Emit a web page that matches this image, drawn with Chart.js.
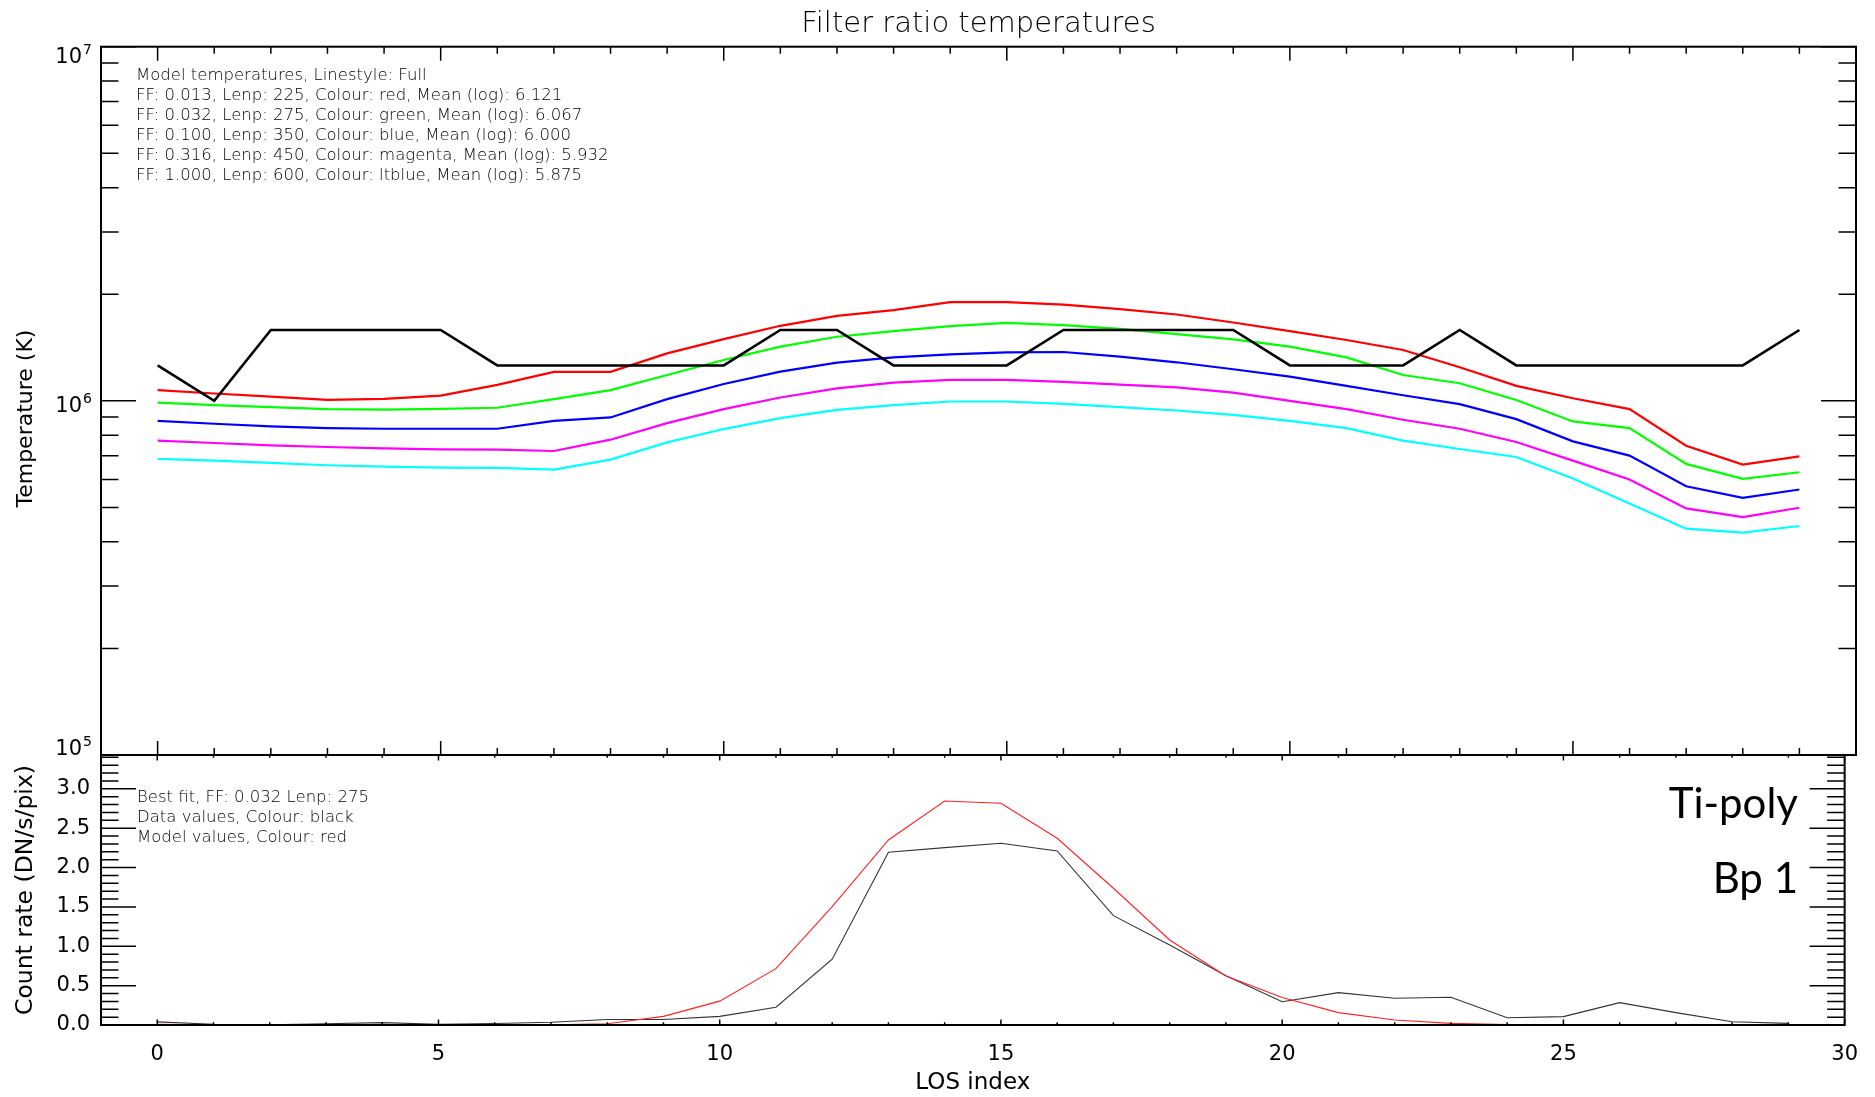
<!DOCTYPE html>
<html>
<head>
<meta charset="utf-8">
<title>Filter ratio temperatures</title>
<script src="https://cdn.jsdelivr.net/npm/chart.js@4/dist/chart.umd.min.js"></script>
<style>
  html, body { margin: 0; padding: 0; background: #fff; }
  #wrap { position: relative; width: 1875px; height: 1097px; }
  #wrap canvas { position: absolute; left: 0; top: 0; }
</style>
</head>
<body>
<div id="wrap">
  <canvas id="temps" width="1875" height="1097"></canvas>
  <canvas id="counts" width="1875" height="1097"></canvas>
</div>
<script>
// Line-of-sight positions along the loop
const losIndex = [0, 1, 2, 3, 4, 5, 6, 7, 8, 9, 10, 11, 12, 13, 14, 15, 16, 17, 18, 19, 20, 21, 22, 23, 24, 25, 26, 27, 28, 29];

// Model temperatures (K) for each filling factor / loop length pair
const tempFF013 = [1.072e6, 1.049e6, 1.028e6, 1.006e6, 1.013e6, 1.035e6, 1.109e6, 1.207e6, 1.207e6, 1.362e6,
                   1.494e6, 1.629e6, 1.738e6, 1.803e6, 1.899e6, 1.899e6, 1.870e6, 1.815e6, 1.753e6, 1.664e6,
                   1.573e6, 1.485e6, 1.392e6, 1.244e6, 1.102e6, 1.017e6, 9.475e5, 7.471e5, 6.607e5, 6.970e5];
const tempFF032 = [9.89e5, 9.72e5, 9.60e5, 9.475e5, 9.45e5, 9.49e5, 9.56e5, 1.011e6, 1.072e6, 1.183e6,
                   1.304e6, 1.422e6, 1.517e6, 1.573e6, 1.625e6, 1.661e6, 1.636e6, 1.597e6, 1.543e6, 1.491e6,
                   1.422e6, 1.327e6, 1.183e6, 1.121e6, 1.006e6, 8.748e5, 8.377e5, 6.636e5, 6.022e5, 6.287e5];
const tempFF100 = [8.784e5, 8.616e5, 8.469e5, 8.378e5, 8.341e5, 8.341e5, 8.341e5, 8.784e5, 8.977e5, 1.011e6,
                   1.116e6, 1.209e6, 1.282e6, 1.327e6, 1.353e6, 1.371e6, 1.374e6, 1.333e6, 1.285e6, 1.228e6,
                   1.171e6, 1.102e6, 1.037e6, 9.786e5, 8.879e5, 7.686e5, 7.004e5, 5.741e5, 5.323e5, 5.619e5];
const tempFF316 = [7.719e5, 7.603e5, 7.488e5, 7.408e5, 7.343e5, 7.296e5, 7.281e5, 7.217e5, 7.768e5, 8.652e5,
                   9.475e5, 1.022e6, 1.085e6, 1.126e6, 1.146e6, 1.146e6, 1.131e6, 1.111e6, 1.092e6, 1.055e6,
                   1.000e6, 9.475e5, 8.843e5, 8.341e5, 7.652e5, 6.780e5, 5.995e5, 4.969e5, 4.697e5, 4.991e5];
const tempFF1000 = [6.853e5, 6.780e5, 6.679e5, 6.579e5, 6.521e5, 6.479e5, 6.465e5, 6.395e5, 6.823e5, 7.636e5,
                    8.325e5, 8.938e5, 9.435e5, 9.720e5, 9.957e5, 9.957e5, 9.808e5, 9.600e5, 9.393e5, 9.134e5,
                    8.784e5, 8.377e5, 7.719e5, 7.311e5, 6.942e5, 6.035e5, 5.133e5, 4.356e5, 4.245e5, 4.432e5];

// Filter-ratio temperatures derived from the observations (K)
const tempObserved = [1.259e6, 1.000e6, 1.585e6, 1.585e6, 1.585e6, 1.585e6, 1.259e6, 1.259e6, 1.259e6, 1.259e6,
                      1.259e6, 1.585e6, 1.585e6, 1.259e6, 1.259e6, 1.259e6, 1.585e6, 1.585e6, 1.585e6, 1.585e6,
                      1.259e6, 1.259e6, 1.259e6, 1.585e6, 1.259e6, 1.259e6, 1.259e6, 1.259e6, 1.259e6, 1.585e6];

// Count rates (DN/s/pix): observed data and best-fit model
const countsData = [0.040, 0.010, 0.002, 0.015, 0.030, 0.010, 0.020, 0.035, 0.070, 0.070,
                    0.110, 0.225, 0.835, 2.194, 2.253, 2.309, 2.211, 1.389, 1.016, 0.627,
                    0.296, 0.411, 0.339, 0.352, 0.093, 0.106, 0.284, 0.157, 0.042, 0.021];
const countsModel = [0.008, 0.003, 0.001, 0.001, 0.001, 0.001, 0.001, 0.002, 0.015, 0.110,
                     0.303, 0.716, 1.503, 2.351, 2.846, 2.817, 2.372, 1.737, 1.080, 0.623,
                     0.350, 0.157, 0.064, 0.021, 0.006, 0.002, 0.001, 0.001, 0.000, 0.000];

// Axis ticks and labels
const xTickValues = [0, 5, 10, 15, 20, 25, 30];
const countTickValues = [0.0, 0.5, 1.0, 1.5, 2.0, 2.5, 3.0];
const tempDecades = [1e5, 1e6, 1e7];

// Annotation text
const tempNotes = [
  'Model temperatures, Linestyle: Full',
  'FF: 0.013, Lenp: 225, Colour: red, Mean (log): 6.121',
  'FF: 0.032, Lenp: 275, Colour: green, Mean (log): 6.067',
  'FF: 0.100, Lenp: 350, Colour: blue, Mean (log): 6.000',
  'FF: 0.316, Lenp: 450, Colour: magenta, Mean (log): 5.932',
  'FF: 1.000, Lenp: 600, Colour: ltblue, Mean (log): 5.875'
];
const countNotes = [
  'Best fit, FF: 0.032 Lenp: 275',
  'Data values, Colour: black',
  'Model values, Colour: red'
];
const panelLabels = ['Ti-poly', 'Bp 1'];
const tempAxisTitle = 'Temperature (K)';

const IDL_FONT = "'DejaVu Sans', sans-serif";
Chart.defaults.font.family = IDL_FONT;
Chart.defaults.font.weight = 400;
Chart.defaults.color = '#000';

const toXY = arr => arr.map((y, i) => ({ x: losIndex[i], y }));

// Box frame with inward-pointing major/minor ticks on all four sides
function frameTicks(cfg) {
  return {
    id: 'frameTicks',
    afterDraw(chart) {
      const { ctx, chartArea: a, scales } = chart;
      const xs = scales.x, ys = scales.y;
      ctx.save();
      ctx.strokeStyle = '#000';
      ctx.lineWidth = 1.5;
      ctx.beginPath();
      for (let v = 0; v <= 30; v++) {
        const px = xs.getPixelForValue(v);
        const len = (v % 5 === 0) ? cfg.xMajor : cfg.xMinor;
        ctx.moveTo(px, a.bottom); ctx.lineTo(px, a.bottom - len);
        ctx.moveTo(px, a.top); ctx.lineTo(px, a.top + len);
      }
      cfg.yTicks.forEach(t => {
        const py = ys.getPixelForValue(t.v);
        const len = t.major ? cfg.yMajor : cfg.yMinor;
        ctx.moveTo(a.left, py); ctx.lineTo(a.left + len, py);
        ctx.moveTo(a.right, py); ctx.lineTo(a.right - len, py);
      });
      ctx.stroke();
      ctx.lineWidth = 2;
      ctx.strokeRect(a.left, a.top, a.right - a.left, a.bottom - a.top);
      ctx.restore();
    }
  };
}

const logTicks = [];
tempDecades.forEach(d => logTicks.push({ v: d, major: true }));
[1e5, 1e6].forEach(d => { for (let k = 2; k <= 9; k++) logTicks.push({ v: k * d, major: false }); });

const countTicks = [];
for (let k = 0; k <= 34; k++) countTicks.push({ v: k / 10, major: k % 5 === 0 });

// Decade labels written as 10 with a raised exponent, plus the rotated axis title
const decadeLabels = {
  id: 'decadeLabels',
  afterDraw(chart) {
    const { ctx, chartArea: a, scales: { y } } = chart;
    ctx.save();
    ctx.fillStyle = '#000';
    ctx.textBaseline = 'alphabetic';
    ctx.textAlign = 'right';
    tempDecades.forEach(v => {
      const py = y.getPixelForValue(v);
      const base = Math.min(Math.max(py + 11, a.top + 16.6), a.bottom);
      const exp = String(Math.round(Math.log10(v)));
      const right = a.left - 9;
      ctx.font = `400 14px ${IDL_FONT}`;
      const ew = ctx.measureText(exp).width;
      ctx.fillText(exp, right, base - 9);
      ctx.font = `400 21px ${IDL_FONT}`;
      ctx.fillText('10', right - ew - 1, base);
    });
    // axis title, set slightly below the panel's mid-height
    const midY = y.getPixelForValue(Math.pow(10, 5.95));
    ctx.translate(26, midY);
    ctx.rotate(-Math.PI / 2);
    ctx.textAlign = 'center';
    ctx.textBaseline = 'middle';
    ctx.font = `400 22px ${IDL_FONT}`;
    ctx.fillText(tempAxisTitle, 0, 0);
    ctx.restore();
  }
};

function textBlock(lines, x, y0, step, font, color) {
  return {
    id: 'textBlock',
    afterDraw(chart) {
      const { ctx } = chart;
      ctx.save();
      ctx.font = font;
      ctx.fillStyle = color;
      ctx.textAlign = 'left';
      ctx.textBaseline = 'alphabetic';
      lines.forEach((t, i) => ctx.fillText(t, x, y0 + i * step));
      ctx.restore();
    }
  };
}

const panelText = {
  id: 'panelText',
  afterDraw(chart) {
    const { ctx } = chart;
    ctx.save();
    ctx.font = "400 42px Lato, 'Open Sans', sans-serif";
    ctx.fillStyle = '#000';
    ctx.textAlign = 'right';
    ctx.textBaseline = 'alphabetic';
    ctx.fillText(panelLabels[0], 1798, 818);
    ctx.fillText(panelLabels[1], 1798, 893);
    ctx.restore();
  }
};

const common = {
  responsive: false,
  animation: false,
  devicePixelRatio: 1,
  events: [],
  elements: { point: { radius: 0 }, line: { tension: 0, fill: false } }
};

// Upper panel: temperatures on a log axis
new Chart(document.getElementById('temps'), {
  type: 'line',
  data: {
    datasets: [
      { label: 'Data', data: toXY(tempObserved), borderColor: '#000000', borderWidth: 2.6 },
      { label: 'FF 0.013', data: toXY(tempFF013), borderColor: '#ff0000', borderWidth: 2.2 },
      { label: 'FF 0.032', data: toXY(tempFF032), borderColor: '#00ff00', borderWidth: 2.2 },
      { label: 'FF 0.100', data: toXY(tempFF100), borderColor: '#0000ff', borderWidth: 2.2 },
      { label: 'FF 0.316', data: toXY(tempFF316), borderColor: '#ff00ff', borderWidth: 2.2 },
      { label: 'FF 1.000', data: toXY(tempFF1000), borderColor: '#00ffff', borderWidth: 2.2 }
    ]
  },
  options: {
    ...common,
    layout: { padding: { left: 101, right: 19, top: 0, bottom: 342 } },
    plugins: {
      legend: { display: false },
      tooltip: { enabled: false },
      title: {
        display: true,
        fullSize: false,
        text: 'Filter ratio temperatures',
        color: '#000',
        font: { size: 29, weight: 300, lineHeight: 1.2 },
        padding: { top: 7, bottom: 4.9 }
      }
    },
    scales: {
      x: { type: 'linear', min: -1, max: 30, display: false },
      y: { type: 'logarithmic', min: 1e5, max: 1e7, display: false }
    }
  },
  plugins: [
    frameTicks({ xMajor: 14, xMinor: 7, yMajor: 35, yMinor: 17.5, yTicks: logTicks }),
    decadeLabels,
    textBlock(tempNotes, 136, 80, 20, `200 16.5px ${IDL_FONT}`, '#000')
  ]
});

// Lower panel: observed and model count rates
new Chart(document.getElementById('counts'), {
  type: 'line',
  data: {
    datasets: [
      { label: 'Model', data: toXY(countsModel), borderColor: '#ff2020', borderWidth: 1.1 },
      { label: 'Data', data: toXY(countsData), borderColor: '#333333', borderWidth: 1.1 }
    ]
  },
  options: {
    ...common,
    layout: { padding: { left: 0, right: 19, top: 755, bottom: 0 } },
    plugins: { legend: { display: false }, tooltip: { enabled: false } },
    scales: {
      x: {
        type: 'linear', min: -1, max: 30, position: 'bottom',
        grid: { display: false, drawTicks: false },
        border: { display: false },
        ticks: { font: { size: 21, weight: 400 }, color: '#000', padding: 17, maxRotation: 0, autoSkip: false, callback: v => String(v) },
        afterBuildTicks: s => { s.ticks = xTickValues.map(v => ({ value: v })); },
        title: { display: true, text: 'LOS index', color: '#000', font: { size: 23, weight: 400 }, padding: { top: 0, bottom: 0 } },
        afterFit: s => { s.height = 72; }
      },
      y: {
        type: 'linear', min: 0, max: 3.43,
        grid: { display: false, drawTicks: false },
        border: { display: false },
        ticks: { font: { size: 21, weight: 400 }, color: '#000', padding: 11, callback: v => Number(v).toFixed(1) },
        afterBuildTicks: s => { s.ticks = countTickValues.map(v => ({ value: v })); },
        title: { display: true, text: 'Count rate (DN/s/pix)', color: '#000', font: { size: 23.5, weight: 400 }, padding: { top: 12, bottom: 0 } },
        afterFit: s => { s.width = 101; }
      }
    }
  },
  plugins: [
    frameTicks({ xMajor: 5.4, xMinor: 2.7, yMajor: 35, yMinor: 17.5, yTicks: countTicks }),
    textBlock(countNotes, 137, 802, 20, `200 16.5px ${IDL_FONT}`, '#000'),
    panelText
  ]
});
</script>
</body>
</html>
